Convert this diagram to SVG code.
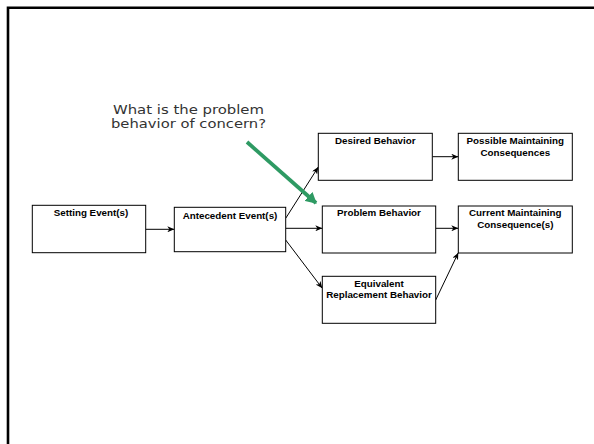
<svg xmlns="http://www.w3.org/2000/svg" width="594" height="444" viewBox="0 0 594 444">
<style>
.box{fill:#fff;stroke:#000;stroke-width:1}
.lbl{font-family:"Liberation Sans",Arial,sans-serif;font-weight:bold;font-size:9.8px;fill:#000;text-anchor:middle}
.q{font-family:"DejaVu Sans",Verdana,sans-serif;font-size:12.5px;fill:#333}
.c{stroke:#000;stroke-width:1;fill:none;marker-end:url(#ah)}
</style>
<defs>
<marker id="ah" markerWidth="8" markerHeight="6" refX="7" refY="3" orient="auto" markerUnits="userSpaceOnUse">
<path d="M0,0 L7,3 L0,6 L2,3 Z" fill="#000"/>
</marker>
<marker id="gh" markerWidth="12" markerHeight="12" refX="10" refY="6" orient="auto" markerUnits="userSpaceOnUse">
<path d="M0,0 L11,6 L0,12 Z" fill="#2e9a63"/>
</marker>
</defs>
<rect width="594" height="444" fill="#fff"/>
<path d="M8,444 V7.7 H594" fill="none" stroke="#000" stroke-width="2.6"/>
<g id="question">
<text class="q" x="113" y="113.5" textLength="151" lengthAdjust="spacingAndGlyphs">What is the problem</text>
<text class="q" x="111" y="128" textLength="155" lengthAdjust="spacingAndGlyphs">behavior of concern?</text>
</g>
<g id="connectors">
<line class="c" x1="145.7" y1="229.3" x2="174.3" y2="229.3"/>
<line class="c" x1="285.7" y1="218.3" x2="318.3" y2="167"/>
<line class="c" x1="285.7" y1="228.3" x2="322.3" y2="228.3"/>
<line class="c" x1="285.7" y1="240" x2="322.3" y2="288.3"/>
<line class="c" x1="432.3" y1="156.7" x2="458.3" y2="156.7"/>
<line class="c" x1="435.7" y1="228.3" x2="458.3" y2="228.3"/>
<line class="c" x1="435.7" y1="300" x2="458.3" y2="252.7"/>
<line x1="247" y1="142" x2="316" y2="203" stroke="#2e9a63" stroke-width="3.8" marker-end="url(#gh)"/>
</g>
<g id="setting">
<rect class="box" x="32.3" y="205.3" width="113.4" height="47.4"/>
<text class="lbl" x="91" y="216">Setting Event(s)</text>
</g>
<g id="antecedent">
<rect class="box" x="174.3" y="207.3" width="111.4" height="44.4"/>
<text class="lbl" x="230" y="219.3">Antecedent Event(s)</text>
</g>
<g id="desired">
<rect class="box" x="318.3" y="133.3" width="114" height="47"/>
<text class="lbl" x="375.3" y="144">Desired Behavior</text>
</g>
<g id="possible">
<rect class="box" x="458.3" y="133.3" width="114" height="47"/>
<text class="lbl" x="515.3" y="144.3">Possible Maintaining</text>
<text class="lbl" x="515.3" y="155.5">Consequences</text>
</g>
<g id="problem">
<rect class="box" x="322.3" y="206" width="113.4" height="47"/>
<text class="lbl" x="379" y="216.3">Problem Behavior</text>
</g>
<g id="current">
<rect class="box" x="458.3" y="206" width="114" height="47"/>
<text class="lbl" x="515.3" y="216.3">Current Maintaining</text>
<text class="lbl" x="515.3" y="228.3">Consequence(s)</text>
</g>
<g id="equivalent">
<rect class="box" x="322.3" y="276.3" width="113.4" height="47"/>
<text class="lbl" x="379" y="286.7">Equivalent</text>
<text class="lbl" x="379" y="297.7">Replacement Behavior</text>
</g>
</svg>
